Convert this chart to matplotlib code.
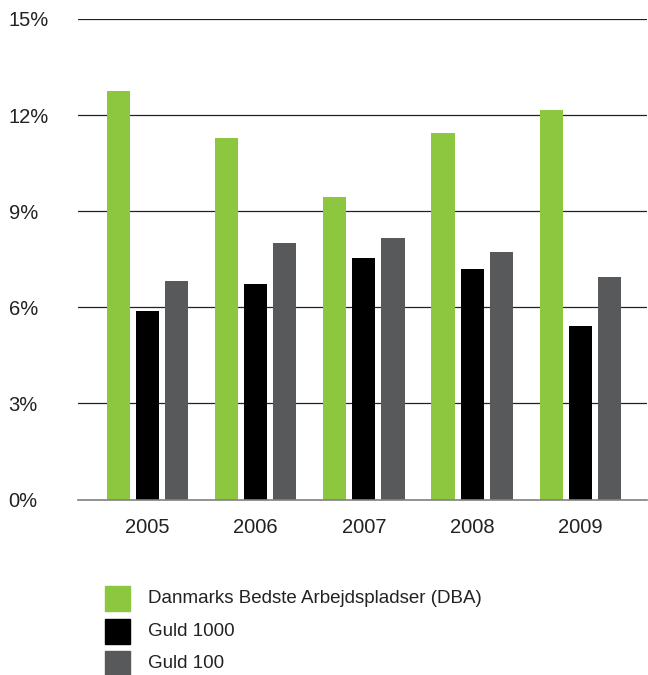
import matplotlib
matplotlib.use("Agg")
from matplotlib import pyplot as plt
from matplotlib.patches import Rectangle
import numpy as np

years = ["2005", "2006", "2007", "2008", "2009"]
dba = [12.75, 11.3, 9.45, 11.45, 12.15]
guld1000 = [5.9, 6.72, 7.55, 7.2, 5.42]
guld100 = [6.82, 8.0, 8.15, 7.72, 6.95]
labels = ["Danmarks Bedste Arbejdspladser (DBA)", "Guld 1000", "Guld 100"]
colors = ["#8dc63f", "#000000", "#58595b"]
y_ticks = [0, 3, 6, 9, 12, 15]

plt.rcParams['font.family'] = ['Liberation Sans', 'DejaVu Sans']

W, H = 648, 675
fig = plt.figure(figsize=(W / 100, H / 100), dpi=100)
left, right, top, bottom = 78, 647, 19, 499.5
ax = fig.add_axes([left / W, 1 - bottom / H, (right - left) / W, (bottom - top) / H])

x = np.arange(len(years))
width = 0.215
step = 0.268
for i, (vals, col) in enumerate(zip([dba, guld1000, guld100], colors)):
    ax.bar(x + (i - 1) * step, vals, width, color=col, zorder=3, label=labels[i])

ax.set_xlim(-0.639, 4.614)
ax.set_ylim(0, 15)
ax.set_xticks(x)
ax.set_xticklabels(years, fontsize=14.5, color="#222222")
ax.tick_params(axis="x", length=0, pad=13)

ax.set_yticks(y_ticks)
ax.set_yticklabels([f"{t}%" for t in y_ticks], fontsize=14.5, color="#222222")
ax.tick_params(axis="y", length=0, pad=50)
for lbl in ax.get_yticklabels():
    lbl.set_horizontalalignment("left")

for t in y_ticks[1:]:
    ax.axhline(t, color="#222222", linewidth=0.9, zorder=1)

for s in ["top", "right", "left"]:
    ax.spines[s].set_visible(False)
ax.spines["bottom"].set_color("#808080")
ax.spines["bottom"].set_linewidth(1.2)
ax.spines["bottom"].set_zorder(4)

# legend drawn by hand: 25 px squares, 32.5 px apart
for i, (lab, col) in enumerate(zip(labels, colors)):
    y0 = 586 + i * 32.5
    fig.add_artist(Rectangle((105 / W, 1 - (y0 + 25) / H), 25 / W, 25 / H,
                             transform=fig.transFigure, color=col))
    fig.text(148 / W, 1 - (y0 + 12.5) / H, lab, fontsize=13.5, color="#222222",
             va="center", ha="left")

fig.savefig("out.png", dpi=100)
